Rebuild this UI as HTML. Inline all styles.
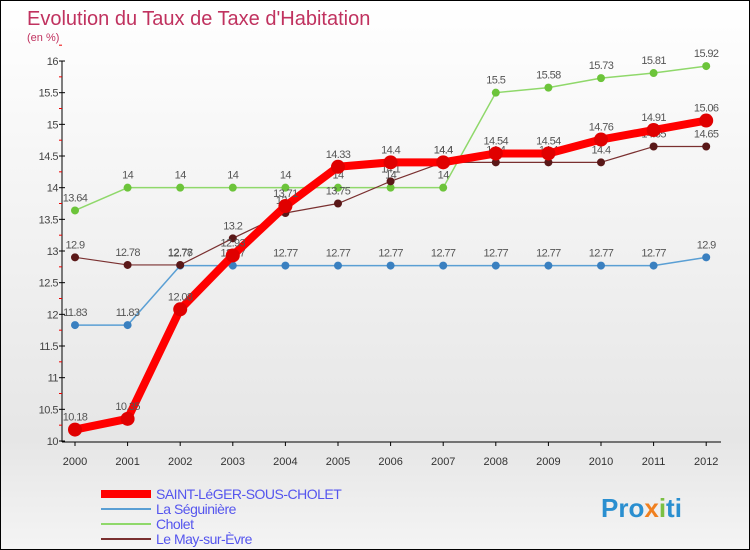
<!DOCTYPE html>
<html><head><meta charset="utf-8"><style>
body{margin:0}
#c{width:748px;height:548px;border:1px solid #000;background:linear-gradient(#fff,#e6e6e6 80%,#f4f4f4);position:relative;font-family:"Liberation Sans",sans-serif;overflow:hidden}
svg text{font-family:"Liberation Sans",sans-serif}
</style></head><body>
<div id="c">
<svg id="s" width="748" height="548">
<text x="26" y="24" font-size="20" fill="#c0325f">Evolution du Taux de Taxe d'Habitation</text>
<text x="26" y="40" font-size="11" fill="#c0325f">(en %)</text>
<g id="g"></g>
<text x="600" y="516" font-size="26" font-weight="bold" fill="#2a8fd0">Pro<tspan fill="#f08020">x</tspan><tspan fill="#7bc043">i</tspan>ti</text>
</svg></div>
<script>
const years=[2000,2001,2002,2003,2004,2005,2006,2007,2008,2009,2010,2011,2012];
const yTicks=[10,10.5,11,11.5,12,12.5,13,13.5,14,14.5,15,15.5,16];
const stLeger=[10.18,10.35,12.08,12.93,13.71,14.33,14.4,14.4,14.54,14.54,14.76,14.91,15.06];
const seguiniere=[11.83,11.83,12.77,12.77,12.77,12.77,12.77,12.77,12.77,12.77,12.77,12.77,12.9];
const cholet=[13.64,14,14,14,14,14,14,14,15.5,15.58,15.73,15.81,15.92];
const may=[12.9,12.78,12.78,13.2,13.6,13.75,14.1,14.4,14.4,14.4,14.4,14.65,14.65];
const names=["SAINT-LéGER-SOUS-CHOLET","La Séguinière","Cholet","Le May-sur-Èvre"];
const NS="http://www.w3.org/2000/svg",g=document.getElementById('g');
const X=i=>74+i*52.6, Y=v=>440-(v-10)*63.33;
function el(t,a,p){const e=document.createElementNS(NS,t);for(const k in a)e.setAttribute(k,a[k]);(p||g).appendChild(e);return e;}
let ax=el('line',{x1:61,y1:60,x2:61,y2:441,stroke:'#000'});


let bx=el('line',{x1:61,y1:441,x2:720,y2:441,stroke:'#000'});


yTicks.forEach(v=>{
 el('line',{x1:58,x2:64,y1:Y(v),y2:Y(v),stroke:'#000'});
 el('line',{x1:58,x2:61,y1:Y(v+0.25),y2:Y(v+0.25),stroke:'#e00'});
 let t=el('text',{x:57,y:Y(v)+4,'font-size':11,fill:'#444','text-anchor':'end','letter-spacing':'-0.5'});t.textContent=v;
 
 
});
years.forEach((yr,i)=>{
 el('line',{x1:X(i),x2:X(i),y1:441,y2:445,stroke:'#000'});
 let t=el('text',{x:X(i),y:464,'font-size':11,fill:'#333','text-anchor':'middle'});t.textContent=yr;
 
 
});
const series=[[seguiniere,'#5a9fd4','#3a80c0',1.5,4,'seguiniere'],[cholet,'#8fd86a','#6cc43a',1.5,4,'cholet'],[may,'#7a3030','#5a1818',1.2,4,'may-sur-evre'],[stLeger,'#ff0000','#e00000',8,7,'saint-leger']];
series.forEach(([d,c,mc,w,r,n])=>{
 let p=el('polyline',{points:d.map((v,i)=>X(i)+','+Y(v)).join(' '),fill:'none',stroke:c,'stroke-width':w,'stroke-linejoin':'round'});
 
 
 d.forEach((v,i)=>{
  let m=el('circle',{cx:X(i),cy:Y(v),r:r,fill:mc});
  
  
  let t=el('text',{x:X(i),y:Y(v)-9,'font-size':11,fill:'#555','text-anchor':'middle','letter-spacing':'-0.6'});t.textContent=v;
  
  
 });
});
const lc=['#ff0000','#5a9fd4','#8fd86a','#7a3030'],lw=[8,2,2,2];
names.forEach((nm,i)=>{
 let y=493+i*15;
 let l=el('line',{x1:100,x2:150,y1:y,y2:y,stroke:lc[i],'stroke-width':lw[i]});
 
 
 let t=el('text',{x:155,y:y+5,'font-size':14,fill:'#5555ee','letter-spacing':'-0.5'});t.textContent=nm;
 
 
});
</script>
</body></html>
